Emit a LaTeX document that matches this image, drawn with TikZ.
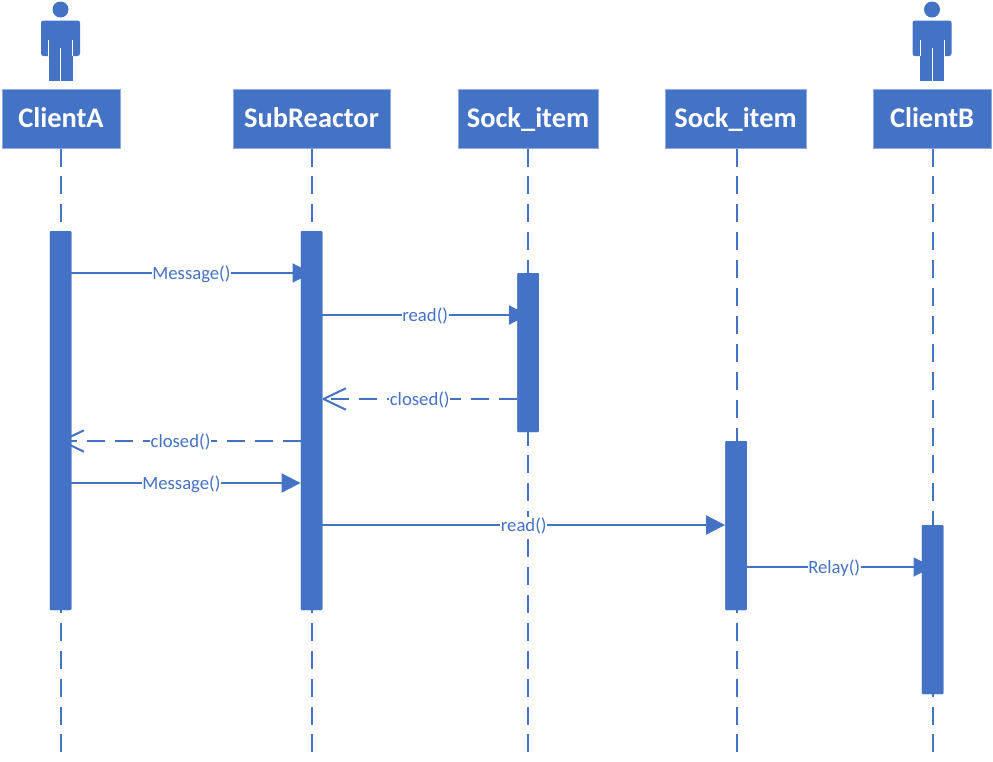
\documentclass[tikz,border=0pt]{standalone}
\usepackage{fontspec}
\setmainfont{Carlito}
\usetikzlibrary{arrows.meta}
\definecolor{umlblue}{HTML}{4472C4}
\definecolor{umlborder}{HTML}{8FAADC}
\tikzset{
    headbox/.style={draw=umlborder, line width=1pt, fill=umlblue, text=white, minimum height=59pt,
        inner sep=0pt, text height=18pt, text depth=0pt, font=\fontsize{28.4}{30}\selectfont\bfseries},
    activebar/.style={fill=umlblue, rounded corners=1pt, minimum width=21.5pt, inner sep=0pt},
    lifeline/.style={umlblue, line width=2pt, dash pattern=on 18pt off 9.9pt},
    callmsg/.style={umlblue, line width=2pt, -{Triangle[length=19pt, width=19pt]}},
    backmsg/.style={umlblue, line width=2pt, dash pattern=on 18pt off 10pt, -{Straight Barb[length=22pt, width=21pt, line width=2pt, round]}},
    msgtext/.style={fill=white, text=umlblue, inner sep=0.5pt, yshift=-1pt, font=\fontsize{18.7}{20}\selectfont},
}
\begin{document}
\begin{tikzpicture}[x=1pt, y=-1pt]
    \useasboundingbox (0,0) rectangle (993,761);

    % Boites du haut
    \node[headbox, minimum width=118pt] (clientA) at (61,118.5) {ClientA};
    \node[headbox, minimum width=157pt] (subReactor) at (311.5,118.5) {SubReactor};
    \node[headbox, minimum width=140pt] (sockOne) at (528,118.5) {Sock\_item};
    \node[headbox, minimum width=141pt] (sockTwo) at (735.5,118.5) {Sock\_item};
    \node[headbox, minimum width=118pt] (clientB) at (932,118.5) {ClientB};

    % Personnages
    \foreach \who/\xc in {clientA/60.5, clientB/932} {
        \begin{scope}[shift={(\xc,0)}]
            \fill[umlblue] (0,9.5) circle (8pt);
            \fill[umlblue, rounded corners=2.5pt] (-19.5,56) -- (-19.5,20.5) -- (19.5,20.5) -- (19.5,56) -- cycle;
            \fill[umlblue] (-12,50) rectangle (12,80.5);
            \draw[white, line width=0.8pt] (-12,40) -- (-12,56);
            \draw[white, line width=0.8pt] (12,40) -- (12,56);
            \draw[white, line width=0.8pt] (0,48) -- (0,80.5);
        \end{scope}
    }

    % Lignes de vie
    \coordinate (endA) at (60.5,752);
    \coordinate (endS) at (311.5,752);
    \coordinate (endOne) at (527.5,752);
    \coordinate (endTwo) at (736.5,752);
    \coordinate (endB) at (932.5,752);
    \draw[lifeline] (clientA.south -| endA) -- (endA);
    \draw[lifeline] (subReactor.south -| endS) -- (endS);
    \draw[lifeline] (sockOne.south -| endOne) -- (endOne);
    \draw[lifeline] (sockTwo.south -| endTwo) -- (endTwo);
    \draw[lifeline] (clientB.south -| endB) -- (endB);

    % Barres d'activation (placees d'abord pour les noms)
    \path node[activebar, minimum height=379pt] (barA) at (60.5,420.5) {}
          node[activebar, minimum height=379pt] (barS) at (311.5,420.5) {}
          node[activebar, minimum height=159pt] (barOne) at (528,352.5) {}
          node[activebar, minimum height=169pt] (barTwo) at (736,525.5) {}
          node[activebar, minimum height=169pt] (barB) at (932.5,609.5) {};

    % Messages
    \draw[callmsg] (barA.east |- 0,273) -- node[msgtext] {Message()} (barS.center |- 0,273);
    \draw[callmsg] (barS.east |- 0,315) -- node[msgtext] {read()} (barOne.center |- 0,315);
    \draw[backmsg] (barOne.west |- 0,399) -- node[msgtext] {closed()} (barS.east |- 0,399);
    \draw[backmsg] (barS.west |- 0,441) -- node[msgtext, pos=0.5] {closed()} (barA.center |- 0,441);
    \draw[callmsg] (barA.east |- 0,483) -- node[msgtext, pos=0.48] {Message()} (barS.west |- 0,483);
    \draw[callmsg] (barS.east |- 0,525) -- node[msgtext] {read()} (barTwo.west |- 0,525);
    \draw[callmsg] (barTwo.east |- 0,567) -- node[msgtext, pos=0.47] {Relay()} (barB.center |- 0,567);

    % Barres par-dessus les fleches
    \node[activebar, minimum height=379pt] at (barA) {};
    \node[activebar, minimum height=379pt] at (barS) {};
    \node[activebar, minimum height=159pt] at (barOne) {};
    \node[activebar, minimum height=169pt] at (barTwo) {};
    \node[activebar, minimum height=169pt] at (barB) {};
\end{tikzpicture}
\end{document}
